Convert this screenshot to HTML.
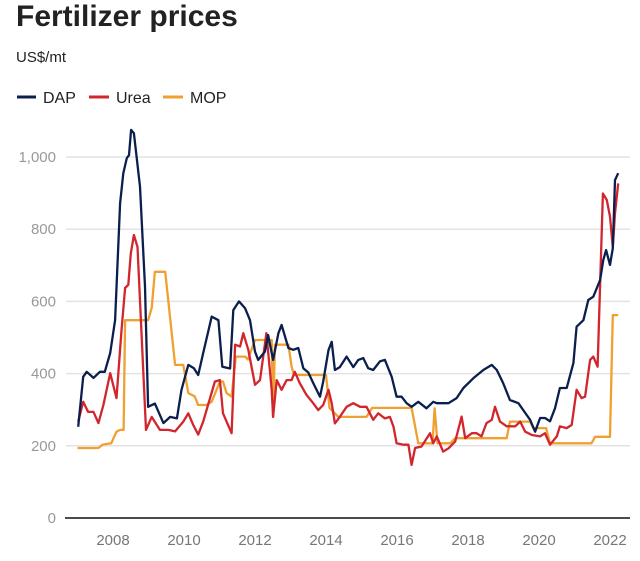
<!DOCTYPE html>
<html><head><meta charset="utf-8"><style>
body{margin:0;background:#fff;width:640px;height:556px;overflow:hidden;font-family:"Liberation Sans",Arial,sans-serif}
</style></head><body>
<svg id="chart" width="640" height="556" xmlns="http://www.w3.org/2000/svg" font-family="Liberation Sans, Arial, sans-serif">
<text x="16" y="26" font-size="30" font-weight="bold" fill="#222">Fertilizer prices</text>
<text x="16" y="62" font-size="15" fill="#222">US$/mt</text>
<g>
<g><line x1="17" y1="97" x2="36" y2="97" stroke="#0b1f4f" stroke-width="3"/><text x="43" y="103" font-size="16" fill="#222">DAP</text></g>
<g><line x1="89" y1="97" x2="109" y2="97" stroke="#d2262e" stroke-width="3"/><text x="116" y="103" font-size="16" fill="#222">Urea</text></g>
<g><line x1="163" y1="97" x2="183" y2="97" stroke="#f0a030" stroke-width="3"/><text x="190" y="103" font-size="16" fill="#222">MOP</text></g>
</g>
<g id="grid"></g><g id="series"></g>
</svg>
<script>
const yTicks=[0,200,400,600,800,1000];
const yTickLabels=["0","200","400","600","800","1,000"];
const xTicks=[2008,2010,2012,2014,2016,2018,2020,2022];
const dapDates=[2007.02,2007.16,2007.26,2007.45,2007.63,2007.77,2007.92,2008.06,2008.2,2008.29,2008.39,2008.45,2008.51,2008.59,2008.76,2008.9,2008.99,2009.18,2009.42,2009.61,2009.8,2009.93,2010.12,2010.28,2010.4,2010.54,2010.78,2010.97,2011.08,2011.3,2011.39,2011.55,2011.72,2011.86,2012.0,2012.09,2012.28,2012.37,2012.51,2012.66,2012.75,2012.94,2013.08,2013.22,2013.36,2013.5,2013.64,2013.83,2013.92,2014.07,2014.16,2014.25,2014.39,2014.58,2014.77,2014.91,2015.05,2015.19,2015.33,2015.52,2015.66,2015.85,2015.99,2016.13,2016.27,2016.41,2016.6,2016.83,2017.02,2017.12,2017.26,2017.45,2017.68,2017.87,2018.15,2018.43,2018.67,2018.81,2018.99,2019.18,2019.42,2019.61,2019.75,2019.89,2020.03,2020.17,2020.31,2020.45,2020.59,2020.78,2020.97,2021.06,2021.25,2021.39,2021.53,2021.72,2021.81,2021.89,2022.0,2022.08,2022.14,2022.23];
const dapValues=[253,391,405,388,405,405,457,548,872,955,997,1005,1075,1066,918,641,308,317,263,280,276,355,424,415,396,457,558,548,419,414,576,600,581,548,461,438,461,507,438,512,535,471,466,471,415,403,374,336,378,465,488,410,418,447,418,438,443,415,410,434,438,391,336,336,318,308,322,304,322,318,318,318,332,360,387,410,424,410,374,327,318,291,272,239,277,277,268,304,360,360,429,530,548,604,613,659,715,742,701,747,936,955];
const ureaDates=[2007.02,2007.16,2007.3,2007.45,2007.59,2007.73,2007.92,2008.1,2008.24,2008.34,2008.43,2008.5,2008.59,2008.69,2008.93,2009.09,2009.32,2009.56,2009.75,2009.98,2010.12,2010.26,2010.4,2010.54,2010.87,2011.01,2011.1,2011.34,2011.44,2011.58,2011.67,2011.81,2012.0,2012.14,2012.32,2012.47,2012.51,2012.61,2012.75,2012.89,2013.03,2013.12,2013.26,2013.45,2013.64,2013.78,2013.92,2014.07,2014.16,2014.25,2014.39,2014.58,2014.77,2014.96,2015.14,2015.33,2015.47,2015.66,2015.8,2015.9,2015.99,2016.18,2016.32,2016.41,2016.51,2016.69,2016.93,2017.02,2017.12,2017.3,2017.45,2017.64,2017.82,2017.92,2018.11,2018.24,2018.38,2018.52,2018.67,2018.76,2018.9,2019.09,2019.33,2019.47,2019.61,2019.8,2020.03,2020.17,2020.31,2020.5,2020.59,2020.78,2020.92,2021.06,2021.2,2021.3,2021.44,2021.53,2021.65,2021.8,2021.91,2022.0,2022.08,2022.14,2022.23];
const ureaValues=[267,322,294,294,263,313,401,332,520,637,646,733,784,751,244,280,244,244,240,267,290,258,231,267,378,382,290,235,480,475,512,466,369,382,512,355,280,382,355,382,382,405,374,341,318,299,313,355,318,262,280,308,318,308,308,272,290,276,280,253,207,203,203,147,194,198,235,207,226,184,193,212,281,221,235,235,226,263,272,308,267,254,254,267,239,230,226,235,203,226,254,249,258,355,332,336,438,447,419,899,881,835,751,844,927];
const mopDates=[2007.0,2007.59,2007.7,2007.95,2008.1,2008.2,2008.3,2008.34,2008.99,2009.09,2009.18,2009.47,2009.75,2009.98,2010.12,2010.3,2010.4,2010.63,2010.78,2011.01,2011.1,2011.2,2011.34,2011.46,2011.72,2011.8,2012.0,2012.47,2012.51,2012.56,2012.94,2013.03,2013.1,2014.0,2014.1,2014.35,2015.14,2015.3,2016.41,2016.6,2017.0,2017.06,2017.14,2017.5,2017.64,2019.09,2019.18,2019.75,2019.84,2020.2,2020.31,2021.48,2021.58,2022.0,2022.08,2022.23];
const mopValues=[194,194,203,207,239,244,244,548,548,582,682,682,424,424,346,337,313,313,322,378,378,346,336,447,447,439,493,493,280,480,480,419,396,396,305,280,280,305,305,207,207,304,207,207,221,221,267,267,249,249,207,207,225,225,562,562];

const X0=113,PXY=35.5,Y0=518,PXV=0.361;
const xs=d=>X0+(d-2008)*PXY;
const ys=v=>Y0-v*PXV;
const NS="http://www.w3.org/2000/svg";
const grid=document.getElementById('grid'),series=document.getElementById('series');
yTicks.forEach((t,i)=>{
  if(t>0){const l=document.createElementNS(NS,'line');
  l.setAttribute('x1',66);l.setAttribute('x2',630);l.setAttribute('y1',ys(t));l.setAttribute('y2',ys(t));
  l.setAttribute('stroke','#e3e3e3');l.setAttribute('stroke-width','1.5');
  
  
  grid.appendChild(l);}
  const tx=document.createElementNS(NS,'text');
  tx.setAttribute('x',56);tx.setAttribute('y',ys(t)+5);tx.setAttribute('text-anchor','end');
  tx.setAttribute('font-size','15');tx.setAttribute('fill','#999');tx.textContent=yTickLabels[i];
  
  
  grid.appendChild(tx);
});
xTicks.forEach(t=>{
  const tx=document.createElementNS(NS,'text');
  tx.setAttribute('x',xs(t));tx.setAttribute('y',545);tx.setAttribute('text-anchor','middle');
  tx.setAttribute('font-size','15');tx.setAttribute('fill','#777');tx.textContent=t;
  
  
  grid.appendChild(tx);
});
const ax=document.createElementNS(NS,'line');
ax.setAttribute('x1',65);ax.setAttribute('x2',630);ax.setAttribute('y1',Y0);ax.setAttribute('y2',Y0);
ax.setAttribute('stroke','#111');ax.setAttribute('stroke-width','1.5');


grid.appendChild(ax);
function draw(d,v,c,name){
  const p=document.createElementNS(NS,'polyline');
  p.setAttribute('points',d.map((x,i)=>xs(x).toFixed(1)+','+ys(v[i]).toFixed(1)).join(' '));
  p.setAttribute('fill','none');p.setAttribute('stroke',c);p.setAttribute('stroke-width','2.3');
  p.setAttribute('stroke-linejoin','round');
  
  
  series.appendChild(p);
}
draw(mopDates,mopValues,'#f0a030','mop-line');
draw(ureaDates,ureaValues,'#d2262e','urea-line');
draw(dapDates,dapValues,'#0b1f4f','dap-line');
</script>
</body></html>
